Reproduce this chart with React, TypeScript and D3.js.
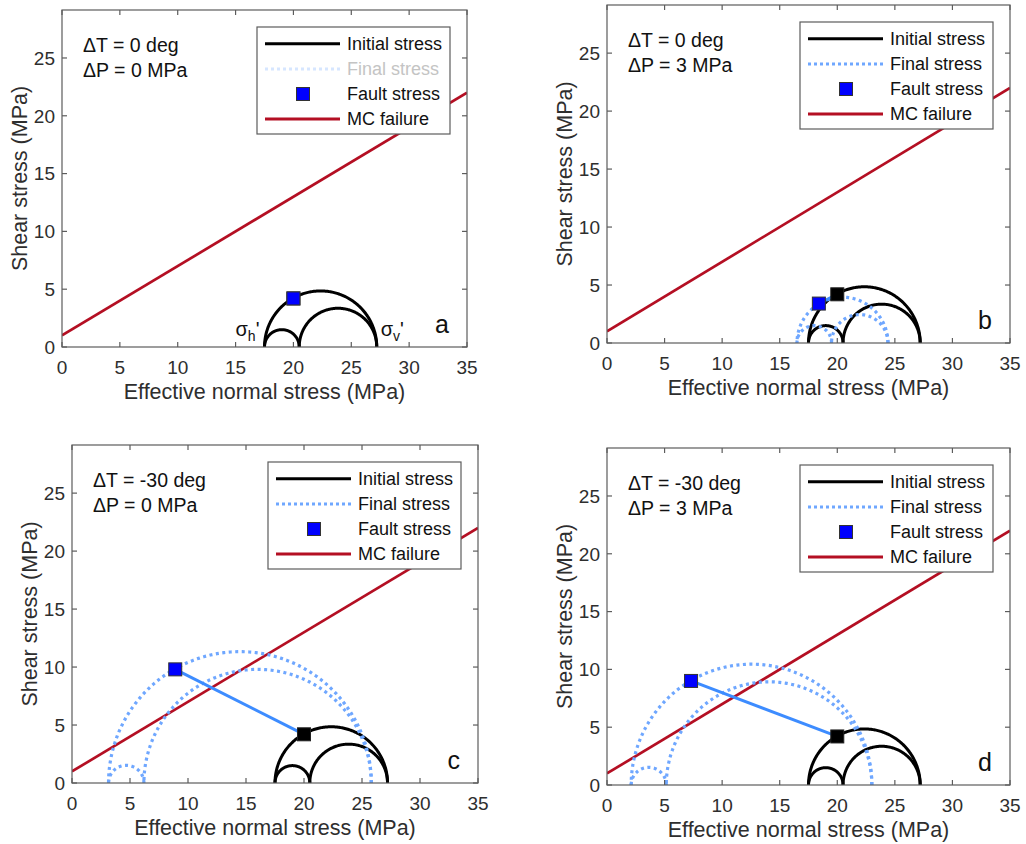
import React from 'react';
import * as d3 from 'd3';

// ---- data ----
const panelLetters = ['a', 'b', 'c', 'd'];
const deltaT = [0, 0, -30, -30];
const deltaP = [0, 3, 0, 3];
const initialPrincipal = [17.5, 20.5, 27.2];
const finalPrincipal: (number[] | null)[] = [null, [16.5, 19.5, 24.4], [3.15, 6.2, 25.8], [2.1, 5.15, 23.0]];
const faultInitial = [20, 4.2];
const faultFinal = [[20, 4.2], [18.4, 3.4], [8.9, 9.8], [7.3, 9.0]];
const mcCohesion = 1;
const mcFriction = 0.6;
const xTicks = [0, 5, 10, 15, 20, 25, 30, 35];
const yTicks = [0, 5, 10, 15, 20, 25];
const legendLabels = ['Initial stress', 'Final stress', 'Fault stress', 'MC failure'];
const xDomain = [0, 35];
const yDomain = [0, 29.15];

// ---- layout ----
const frames = [
  { x0: 62, x1: 467, y0: 10, y1: 347 },
  { x0: 607, x1: 1010, y0: 5, y1: 343 },
  { x0: 72, x1: 478, y0: 445, y1: 783 },
  { x0: 607, x1: 1010, y0: 448, y1: 785 },
];
const FONT = '"Liberation Sans", Arial, Helvetica, sans-serif';
const TEXT = '#2e2e2e';
const AXIS = '#5c5c5c';
const RED = '#b40f23';
const LIGHTBLUE = '#6fa7ff';
const LINEBLUE = '#3d8cff';

function semicircles(p: number[]) {
  const [s3, s2, s1] = p;
  return [[s3, s2], [s2, s1], [s3, s1]];
}

function arcPoints(a: number, b: number) {
  const c = (a + b) / 2, r = (b - a) / 2;
  return d3.range(0, 181).map((k) => {
    const t = (k / 180) * Math.PI;
    return [c + r * Math.cos(t), r * Math.sin(t)] as [number, number];
  });
}

function Panel({ i }: { i: number }) {
  const f = frames[i];
  const x = d3.scaleLinear().domain(xDomain).range([f.x0, f.x1]);
  const y = d3.scaleLinear().domain(yDomain).range([f.y1, f.y0]);
  const line = d3.line<[number, number]>().x((d) => x(d[0])).y((d) => y(d[1]));
  const fin = finalPrincipal[i];
  const ff = faultFinal[i];
  const lx = f.x1 - 17 - 193;
  const ly = f.y0 + 17;
  const rowY = [16.7, 42, 67, 92].map((v) => ly + v);
  const faded = fin === null;
  const sq = 13;
  return (
    <g fontFamily={FONT}>
      <defs>
        <clipPath id={`clip${i}`}>
          <rect x={f.x0} y={f.y0} width={f.x1 - f.x0} height={f.y1 - f.y0} />
        </clipPath>
      </defs>
      <g clipPath={`url(#clip${i})`}>
        <path d={line([[xDomain[0], mcCohesion + mcFriction * xDomain[0]], [xDomain[1], mcCohesion + mcFriction * xDomain[1]]])!}
          stroke={RED} strokeWidth={2.7} fill="none" />
        {semicircles(initialPrincipal).map((s, k) => (
          <path key={'i' + k} d={line(arcPoints(s[0], s[1]))!} stroke="#000" strokeWidth={3} fill="none" />
        ))}
        {fin && semicircles(fin).map((s, k) => (
          <path key={'f' + k} d={line(arcPoints(s[0], s[1]))!} stroke={LIGHTBLUE} strokeWidth={3.2} strokeDasharray="3 3.5" fill="none" />
        ))}
        {fin && (
          <path d={line([faultInitial as [number, number], ff as [number, number]])!} stroke={LINEBLUE} strokeWidth={3} fill="none" />
        )}
        <rect x={x(faultInitial[0]) - sq / 2} y={y(faultInitial[1]) - sq / 2} width={sq} height={sq} fill="#000" stroke="#222" />
        <rect x={x(ff[0]) - sq / 2} y={y(ff[1]) - sq / 2} width={sq} height={sq} fill="#0000ff" stroke="#333" strokeWidth={1} />
      </g>
      {/* axes box */}
      <rect x={f.x0} y={f.y0} width={f.x1 - f.x0} height={f.y1 - f.y0} fill="none" stroke={AXIS} strokeWidth={1.2} />
      {xTicks.map((t) => (
        <g key={'xt' + t}>
          <line x1={x(t)} x2={x(t)} y1={f.y1} y2={f.y1 - 5} stroke={AXIS} strokeWidth={1.2} />
          <line x1={x(t)} x2={x(t)} y1={f.y0} y2={f.y0 + 5} stroke={AXIS} strokeWidth={1.2} />
          <text x={x(t)} y={f.y1 + 27} fontSize={19} fill={TEXT} textAnchor="middle">{t}</text>
        </g>
      ))}
      {yTicks.map((t) => (
        <g key={'yt' + t}>
          <line x1={f.x0} x2={f.x0 + 5} y1={y(t)} y2={y(t)} stroke={AXIS} strokeWidth={1.2} />
          <line x1={f.x1} x2={f.x1 - 5} y1={y(t)} y2={y(t)} stroke={AXIS} strokeWidth={1.2} />
          <text x={f.x0 - 7} y={y(t)} dy="0.36em" fontSize={19} fill={TEXT} textAnchor="end">{t}</text>
        </g>
      ))}
      <text x={(f.x0 + f.x1) / 2} y={f.y1 + 52} fontSize={21.5} fill={TEXT} textAnchor="middle">Effective normal stress (MPa)</text>
      <text transform={`translate(${f.x0 - 35},${(f.y0 + f.y1) / 2}) rotate(-90)`} fontSize={21.5} fill={TEXT} textAnchor="middle">Shear stress (MPa)</text>
      {/* annotations */}
      <text x={f.x0 + 21} y={f.y0 + 42} fontSize={19.5} fill="#111">ΔT = {deltaT[i]} deg</text>
      <text x={f.x0 + 21} y={f.y0 + 67} fontSize={19.5} fill="#111">ΔP = {deltaP[i]} MPa</text>
      <text x={f.x1 - 18} y={f.y1 - 14} fontSize={25} fill="#111" textAnchor="end">{panelLetters[i]}</text>
      {i === 0 && (
        <g fontSize={20} fill="#111">
          <text x={x(initialPrincipal[0]) - 29} y={f.y1 - 11}>σ<tspan fontSize={14} dy={5}>h</tspan><tspan dy={-5}>'</tspan></text>
          <text x={x(initialPrincipal[2]) + 4} y={f.y1 - 11}>σ<tspan fontSize={14} dy={5}>v</tspan><tspan dy={-5}>'</tspan></text>
        </g>
      )}
      {/* legend */}
      <rect x={lx} y={ly} width={193} height={107} fill="#fff" stroke={AXIS} strokeWidth={1.2} />
      <line x1={lx + 8} x2={lx + 83} y1={rowY[0]} y2={rowY[0]} stroke="#000" strokeWidth={3} />
      <line x1={lx + 8} x2={lx + 83} y1={rowY[1]} y2={rowY[1]} stroke={faded ? '#d6e6ff' : LIGHTBLUE} strokeWidth={3} strokeDasharray="3 3" />
      <rect x={lx + 46 - sq / 2} y={rowY[2] - sq / 2} width={sq} height={sq} fill="#0000ff" stroke="#333" />
      <line x1={lx + 8} x2={lx + 83} y1={rowY[3]} y2={rowY[3]} stroke={RED} strokeWidth={3} />
      {legendLabels.map((lab, k) => (
        <text key={lab} x={lx + 90} y={rowY[k]} dy="0.36em" fontSize={18} fill={k === 1 && faded ? '#c4c4c4' : '#111'}>{lab}</text>
      ))}
    </g>
  );
}

export default function App() {
  return (
    <svg width={1026} height={844} style={{ position: 'absolute', left: 0, top: 0, background: '#fff' }}>
      <rect x={0} y={0} width={1026} height={844} fill="#fff" />
      {frames.map((_, i) => <Panel key={i} i={i} />)}
    </svg>
  );
}
